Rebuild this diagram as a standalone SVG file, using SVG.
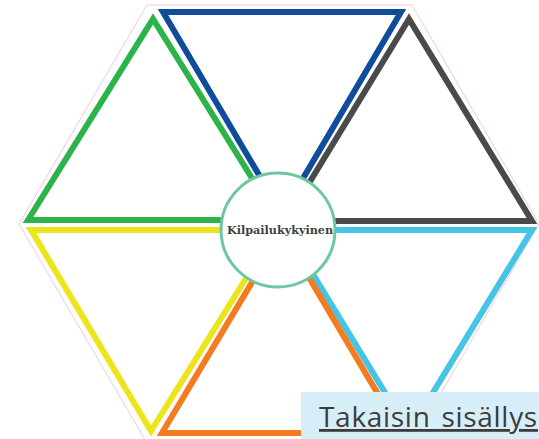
<svg xmlns="http://www.w3.org/2000/svg" width="539" height="439" viewBox="0 0 539 439">
<style>
.tri{fill:none;stroke-width:6;stroke-linejoin:miter;stroke-miterlimit:10}
.hex{fill:none;stroke:#f2c8dc;stroke-width:1}
.label{font-family:"DejaVu Serif","Liberation Serif",serif;font-size:11.2px;font-weight:bold;fill:#3f3f3f;text-anchor:middle}
.btn{font-family:"Open Sans","Liberation Sans",sans-serif;font-size:28px;fill:#3c3c3c;text-decoration:underline;word-spacing:3px;letter-spacing:0.7px}
</style>
<rect width="539" height="439" fill="#ffffff"/>
<g id="outline">
<polygon class="hex" points="19,224 147,5 412,5 539,224 412,443 147,443"/>
</g>
<g id="green"><polygon class="tri" stroke="#2cb34a" points="28,220 153,19 278,220"/></g>
<g id="blue"><polygon class="tri" stroke="#0f4c9c" points="163,12 401,12 282,214"/></g>
<g id="gray"><polygon class="tri" stroke="#4a4a4a" points="286,221 409,19 532,221"/></g>
<g id="cyan"><polygon class="tri" stroke="#45c4e6" points="286,230 532,230 409,432"/></g>
<g id="orange"><polygon class="tri" stroke="#f47b20" points="162,433 401,433 282,232"/></g>
<g id="yellow"><polygon class="tri" stroke="#ede51c" points="31,230 151,431 276,230"/></g>
<g id="center">
<circle cx="278" cy="230" r="57" fill="#ffffff" stroke="#6dc7a2" stroke-width="3"/>
<text class="label" x="280" y="234">Kilpailukykyinen</text>
</g>
<g id="button">
<rect x="301" y="392" width="238" height="47" fill="#d7eef8"/>
<text class="btn" x="319" y="427">Takaisin sisällys</text>
</g>
</svg>
